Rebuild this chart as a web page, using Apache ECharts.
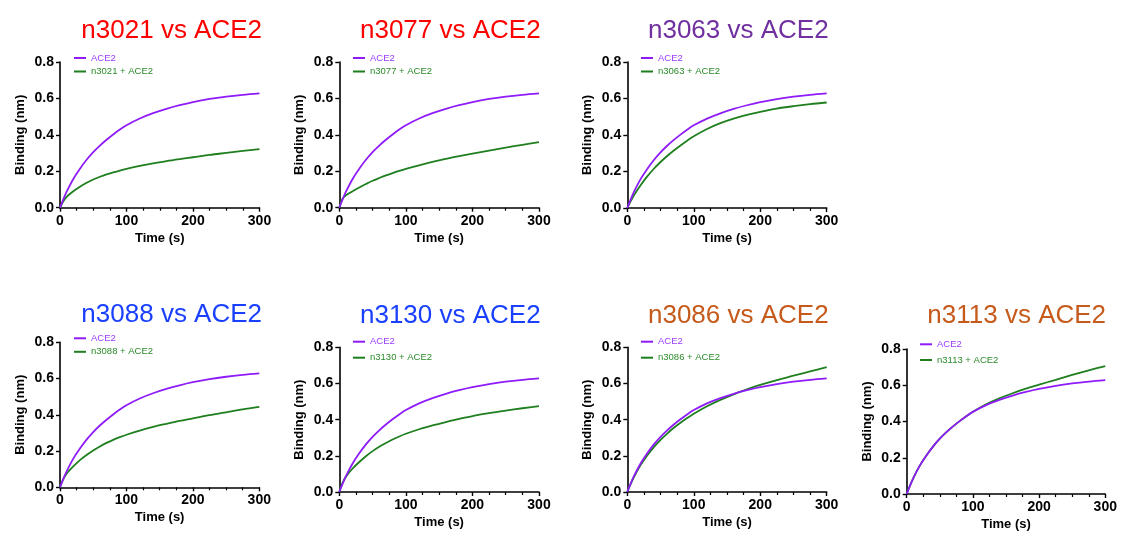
<!DOCTYPE html>
<html>
<head>
<meta charset="utf-8">
<script src="https://cdn.jsdelivr.net/npm/echarts@6/dist/echarts.min.js"></script>
<style>
html,body{margin:0;padding:0;background:#fff;}
#chart{width:1121px;height:533px;}
</style>
</head>
<body>
<div id="chart"></div>
<script>
// ---- data ----
const time = [0, 5, 10, 20, 30, 40, 50, 60, 70, 80, 90, 100, 120, 140, 160, 180, 200, 225, 250, 275, 300];
const ace2 = [0, 0.046, 0.088, 0.158, 0.214, 0.263, 0.305, 0.341, 0.373, 0.402, 0.429, 0.453, 0.49, 0.519, 0.543, 0.563, 0.58, 0.597, 0.61, 0.62, 0.628];
const n3021 = [0, 0.035, 0.06, 0.09, 0.115, 0.137, 0.155, 0.17, 0.183, 0.194, 0.204, 0.213, 0.229, 0.243, 0.256, 0.267, 0.277, 0.29, 0.301, 0.312, 0.322];
const n3077 = [0, 0.05, 0.068, 0.09, 0.111, 0.13, 0.148, 0.163, 0.177, 0.19, 0.202, 0.213, 0.233, 0.251, 0.268, 0.283, 0.297, 0.314, 0.33, 0.345, 0.36];
const n3063 = [0, 0.036, 0.07, 0.125, 0.173, 0.215, 0.252, 0.285, 0.315, 0.343, 0.369, 0.393, 0.433, 0.465, 0.49, 0.51, 0.527, 0.545, 0.558, 0.569, 0.578];
const n3088 = [0, 0.045, 0.075, 0.115, 0.15, 0.178, 0.203, 0.225, 0.245, 0.262, 0.277, 0.29, 0.313, 0.333, 0.35, 0.366, 0.38, 0.398, 0.414, 0.43, 0.444];
const n3130 = [0, 0.05, 0.085, 0.13, 0.166, 0.198, 0.226, 0.25, 0.271, 0.29, 0.307, 0.322, 0.347, 0.368, 0.387, 0.404, 0.42, 0.436, 0.45, 0.463, 0.475];
const n3086 = [0, 0.043, 0.083, 0.149, 0.202, 0.248, 0.288, 0.323, 0.355, 0.383, 0.409, 0.433, 0.474, 0.509, 0.54, 0.567, 0.592, 0.619, 0.643, 0.667, 0.69];
const n3113 = [0, 0.046, 0.088, 0.158, 0.214, 0.263, 0.305, 0.341, 0.373, 0.402, 0.429, 0.454, 0.495, 0.528, 0.556, 0.581, 0.603, 0.63, 0.657, 0.682, 0.706];

const titles = ['n3021 vs ACE2', 'n3077 vs ACE2', 'n3063 vs ACE2', 'n3088 vs ACE2', 'n3130 vs ACE2', 'n3086 vs ACE2', 'n3113 vs ACE2'];
const greenNames = ['n3021 + ACE2', 'n3077 + ACE2', 'n3063 + ACE2', 'n3088 + ACE2', 'n3130 + ACE2', 'n3086 + ACE2', 'n3113 + ACE2'];
const greenData = [n3021, n3077, n3063, n3088, n3130, n3086, n3113];
const xTicks = [0, 100, 200, 300];
const yTicks = ['0.0', '0.2', '0.4', '0.6', '0.8'];

// ---- layout / style ----
const titleColors = ['#FF0000', '#FF0000', '#7030A0', '#1A40FF', '#1A40FF', '#C55A1A', '#C55A1A'];
const panels = [
  {l: 60,    t: 62,    w: 199.5, h: 145.7, tx: 166.7, ty: 26,    ll: 74,  lt: 53,    lg: 3.5},
  {l: 339.3, t: 62,    w: 199.7, h: 145.7, tx: 445.3, ty: 26,    ll: 353, lt: 53,    lg: 3.5},
  {l: 627.3, t: 62,    w: 199.4, h: 146,   tx: 733.3, ty: 26,    ll: 641, lt: 53,    lg: 3.5},
  {l: 60,    t: 342.3, w: 199.3, h: 145,   tx: 166.7, ty: 310,   ll: 74,  lt: 333.3, lg: 3.5},
  {l: 339.3, t: 347.3, w: 199.7, h: 144.7, tx: 445.3, ty: 310.8, ll: 353, lt: 336.7, lg: 6},
  {l: 627.3, t: 347.3, w: 199.4, h: 144.7, tx: 733.3, ty: 310.8, ll: 641, lt: 336.7, lg: 6},
  {l: 906.7, t: 349,   w: 198.6, h: 145,   tx: 1011.7, ty: 310.8, ll: 920, lt: 339.3, lg: 5.7}
];
const purple = '#8F1CF8';
const green = '#1F7F1F';
const font = 'Liberation Sans, Arial, sans-serif';

const option = {
  backgroundColor: '#ffffff',
  animation: false,
  title: [], grid: [], xAxis: [], yAxis: [], legend: [], series: []
};

panels.forEach((p, i) => {
  option.title.push({
    text: titles[i], left: p.tx, top: p.ty - 13, textAlign: 'center',
    textStyle: {color: titleColors[i], fontSize: 26, fontWeight: 'normal', fontFamily: font, lineHeight: 26}
  });
  option.grid.push({left: p.l, top: p.t, width: p.w, height: p.h, containLabel: false});
  option.xAxis.push({
    type: 'value', gridIndex: i, min: xTicks[0], max: xTicks[xTicks.length - 1], interval: 100,
    name: 'Time (s)', nameLocation: 'middle', nameGap: 24,
    nameTextStyle: {color: '#000', fontSize: 13, fontWeight: 'bold', fontFamily: font},
    axisLine: {show: true, onZero: false, lineStyle: {color: '#000', width: 1.6}},
    axisTick: {show: true, length: 4, lineStyle: {color: '#000', width: 1.4}},
    minorTick: {show: true, splitNumber: 4, length: 3, lineStyle: {color: '#000', width: 1.2}},
    splitLine: {show: false},
    axisLabel: {color: '#000', fontSize: 14, fontWeight: 'bold', fontFamily: font, margin: 6}
  });
  option.yAxis.push({
    type: 'value', gridIndex: i, min: 0, max: 0.8, interval: 0.2,
    name: 'Binding (nm)', nameLocation: 'middle', nameGap: 33,
    nameTextStyle: {color: '#000', fontSize: 13, fontWeight: 'bold', fontFamily: font},
    axisLine: {show: true, onZero: false, lineStyle: {color: '#000', width: 1.6}},
    axisTick: {show: true, length: 4, lineStyle: {color: '#000', width: 1.4}},
    splitLine: {show: false},
    axisLabel: {color: '#000', fontSize: 14, fontWeight: 'bold', fontFamily: font, margin: 6,
      formatter: v => yTicks[Math.round(v / 0.2)] || v.toFixed(1)}
  });
  option.legend.push({
    orient: 'vertical', left: p.ll, top: p.lt, itemGap: p.lg,
    itemWidth: 12, itemHeight: 2, icon: 'rect', padding: 0, selectedMode: false,
    textStyle: {fontSize: 9.5, fontFamily: font, lineHeight: 10},
    data: [
      {name: 'ACE2', textStyle: {color: '#9A3CFF'}},
      {name: greenNames[i], textStyle: {color: '#2A8A2A'}}
    ]
  });
  option.series.push({
    name: 'ACE2', type: 'line', xAxisIndex: i, yAxisIndex: i, smooth: 0.3, showSymbol: false,
    lineStyle: {color: purple, width: 1.8}, itemStyle: {color: purple},
    data: time.map((t, k) => [t, ace2[k]]), z: 3
  });
  option.series.push({
    name: greenNames[i], type: 'line', xAxisIndex: i, yAxisIndex: i, smooth: 0.3, showSymbol: false,
    lineStyle: {color: green, width: 1.8}, itemStyle: {color: green},
    data: time.map((t, k) => [t, greenData[i][k]]), z: 2
  });
});

const chart = echarts.init(document.getElementById('chart'), null, {renderer: 'canvas'});
chart.setOption(option);
</script>
</body>
</html>
